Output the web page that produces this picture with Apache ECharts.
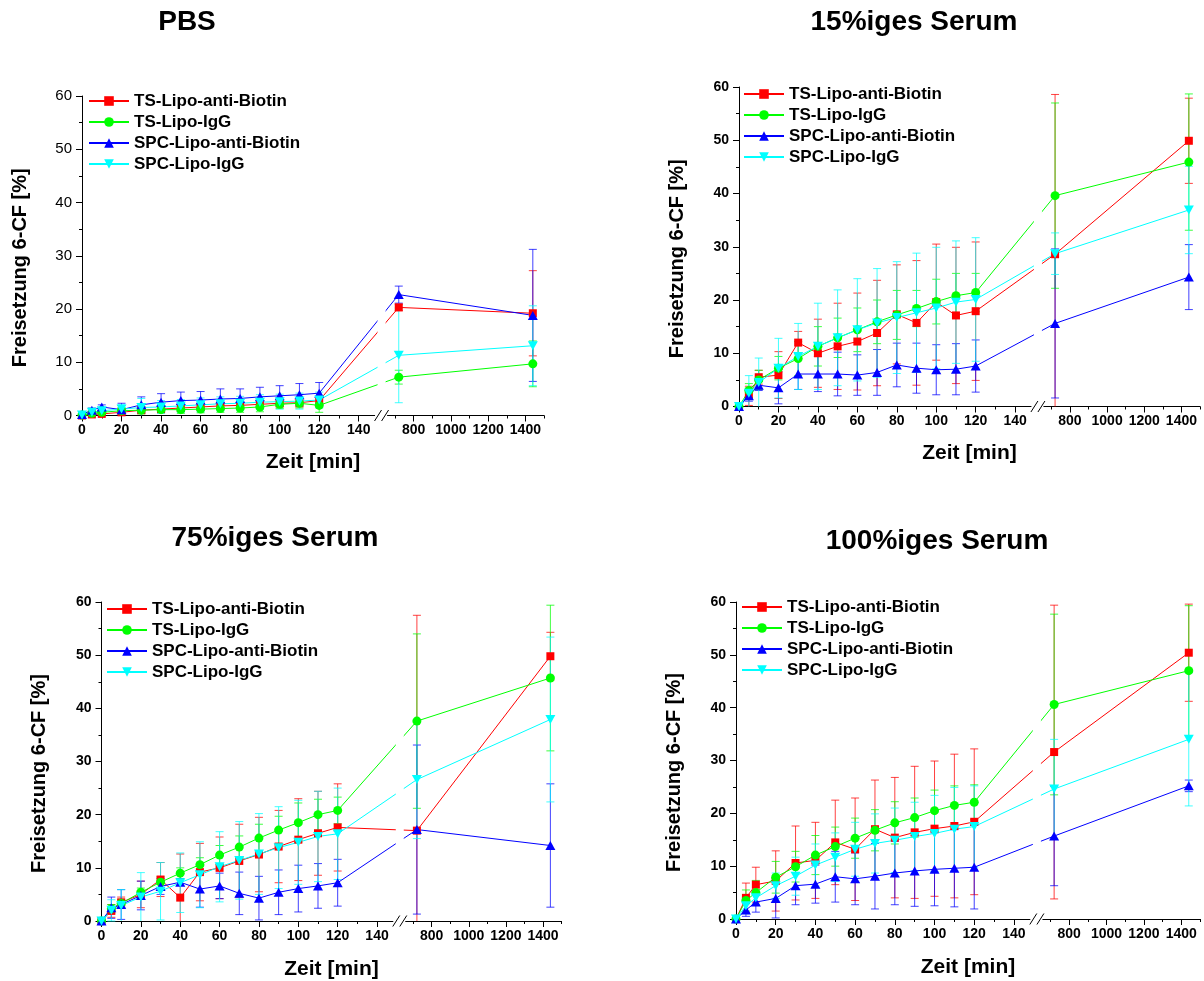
<!DOCTYPE html>
<html><head><meta charset="utf-8">
<script src="https://cdn.jsdelivr.net/npm/echarts@6/dist/echarts.min.js"></script>
<style>html,body{margin:0;padding:0;background:#fff}#c{width:1204px;height:981px}</style>
</head><body><div id="c"></div>
<script>
// ---------------- data ----------------
const TIME = [0, 5, 10, 20, 30, 40, 50, 60, 70, 80, 90, 100, 110, 120, 720, 1440];
const SERIES_NAMES = ['TS-Lipo-anti-Biotin', 'TS-Lipo-IgG', 'SPC-Lipo-anti-Biotin', 'SPC-Lipo-IgG'];
const PANEL_TITLES = ['PBS', '15%iges Serum', '75%iges Serum', '100%iges Serum'];
const X_MAJOR_TICKS = [0, 20, 40, 60, 80, 100, 120, 140, 800, 1000, 1200, 1400];
const X_MINOR_TICKS = [10, 30, 50, 70, 90, 110, 130, 700, 900, 1100, 1300, 1500];
const Y_MIN = 0, Y_MAX = 60, Y_INTERVAL = 10;

// PBS
const PBS_TS_ANTI      = [0, 0.2, 0.3, 0.6, 1.0, 1.2, 1.4, 1.6, 1.8, 1.9, 2.1, 2.3, 2.4, 2.8, 20.3, 19.2];
const PBS_TS_ANTI_ERR  = [0, 0.2, 0.3, 0.4, 0.5, 0.5, 0.6, 0.6, 0.6, 0.7, 0.7, 0.7, 0.8, 0.8, 0.6, 8.0];
const PBS_TS_IGG       = [0.1, 0.4, 0.6, 0.9, 1.0, 1.1, 1.1, 1.2, 1.3, 1.4, 1.6, 2.1, 2.3, 1.9, 7.2, 9.7];
const PBS_TS_IGG_ERR   = [0, 0.3, 0.4, 0.6, 0.7, 0.6, 0.7, 0.7, 0.7, 0.8, 0.9, 0.8, 0.9, 1.3, 1.3, 4.3];
const PBS_SPC_ANTI     = [0.2, 1.0, 1.6, 1.1, 2.0, 2.5, 2.8, 2.9, 3.1, 3.2, 3.5, 3.7, 3.9, 4.2, 22.7, 18.8];
const PBS_SPC_ANTI_ERR = [0, 0.4, 0.4, 1.2, 1.5, 1.6, 1.6, 1.6, 1.9, 1.8, 1.8, 1.9, 2.1, 2.0, 1.6, 12.4];
const PBS_SPC_IGG      = [0.1, 0.6, 0.9, 1.2, 1.5, 1.6, 1.8, 2.0, 2.2, 2.3, 2.5, 2.6, 2.7, 2.9, 11.3, 13.1];
const PBS_SPC_IGG_ERR  = [0, 0.4, 0.5, 0.8, 1.7, 1.2, 1.2, 1.3, 1.3, 1.3, 1.4, 1.4, 1.5, 1.5, 8.9, 7.5];

// 15 % serum
const S15_TS_ANTI      = [0, 2.0, 5.5, 5.9, 12.0, 10.0, 11.3, 12.2, 13.8, 17.3, 15.7, 19.6, 17.1, 17.9, 28.6, 49.9];
const S15_TS_ANTI_ERR  = [0, 1.8, 1.3, 4.4, 2.1, 6.4, 8.1, 9.1, 9.9, 9.3, 11.7, 10.9, 12.8, 13.0, 30.0, 8.0];
const S15_TS_IGG       = [0, 3.0, 5.0, 7.2, 9.0, 11.3, 12.9, 14.4, 15.9, 17.2, 18.4, 19.7, 20.8, 21.4, 39.6, 45.9];
const S15_TS_IGG_ERR   = [0, 1.3, 1.8, 2.2, 3.2, 3.7, 3.7, 4.1, 4.1, 4.6, 3.4, 4.2, 4.2, 3.6, 17.4, 12.8];
const S15_SPC_ANTI     = [0, 2.0, 4.0, 3.5, 6.1, 6.1, 6.1, 5.9, 6.4, 7.8, 7.2, 6.9, 7.0, 7.6, 15.6, 24.3];
const S15_SPC_ANTI_ERR = [0, 1.0, 1.0, 3.0, 2.9, 3.3, 4.1, 3.8, 4.3, 4.1, 4.7, 4.7, 4.8, 4.9, 14.0, 6.1];
const S15_SPC_IGG      = [0, 2.5, 4.5, 7.2, 9.4, 11.3, 12.9, 14.4, 15.7, 16.7, 17.6, 18.5, 19.6, 20.1, 28.7, 36.9];
const S15_SPC_IGG_ERR  = [0, 3.3, 4.6, 5.6, 6.2, 8.1, 9.0, 9.6, 10.2, 10.5, 11.2, 11.4, 11.5, 11.6, 3.9, 8.2];

// 75 % serum
const S75_TS_ANTI      = [0, 1.9, 3.5, 5.0, 7.8, 4.4, 9.2, 10.0, 11.3, 12.5, 14.0, 15.3, 16.5, 17.6, 17.0, 49.8];
const S75_TS_ANTI_ERR  = [0, 1.2, 1.0, 2.5, 3.2, 8.2, 5.4, 5.8, 6.9, 7.0, 6.8, 7.7, 7.9, 8.2, 40.5, 4.5];
const S75_TS_IGG       = [0, 2.3, 3.3, 5.4, 7.3, 9.0, 10.6, 12.4, 13.9, 15.6, 17.1, 18.5, 20.0, 20.8, 37.6, 45.7];
const S75_TS_IGG_ERR   = [0, 0.8, 0.8, 0.8, 1.0, 1.0, 1.3, 1.8, 2.1, 2.6, 2.6, 3.7, 2.9, 2.5, 16.4, 13.7];
const S75_SPC_ANTI     = [0, 2.5, 3.1, 4.8, 6.5, 7.3, 6.0, 6.6, 5.2, 4.3, 5.4, 6.1, 6.6, 7.2, 17.2, 14.2];
const S75_SPC_ANTI_ERR = [0, 2.0, 2.8, 2.7, 1.5, 0.6, 3.4, 2.4, 4.0, 4.1, 4.2, 4.4, 4.2, 4.4, 15.9, 11.6];
const S75_SPC_IGG      = [0, 2.0, 2.9, 4.5, 5.6, 7.2, 8.7, 10.2, 11.4, 12.6, 13.8, 14.8, 15.9, 16.4, 26.6, 37.9];
const S75_SPC_IGG_ERR  = [0, 2.0, 3.0, 4.6, 5.4, 5.6, 6.2, 6.6, 7.3, 7.6, 7.7, 7.9, 8.5, 8.6, 11.1, 15.5];

// 100 % serum
const S100_TS_ANTI      = [0, 4.0, 6.5, 7.2, 10.6, 11.1, 14.5, 13.2, 17.0, 15.4, 16.4, 17.1, 17.6, 18.4, 31.6, 50.4];
const S100_TS_ANTI_ERR  = [0, 2.8, 3.3, 5.7, 7.0, 7.2, 8.0, 9.7, 9.3, 11.4, 12.5, 12.8, 13.6, 13.8, 27.8, 9.2];
const S100_TS_IGG       = [0, 3.5, 5.0, 7.9, 9.9, 12.1, 13.7, 15.3, 16.8, 18.2, 19.2, 20.5, 21.5, 22.1, 40.6, 47.0];
const S100_TS_IGG_ERR   = [0, 2.0, 2.3, 3.0, 2.9, 3.7, 3.7, 3.8, 3.9, 4.0, 3.7, 3.9, 3.7, 3.3, 17.1, 12.3];
const S100_SPC_ANTI     = [0, 1.7, 3.2, 3.9, 6.3, 6.6, 8.0, 7.6, 8.1, 8.7, 9.1, 9.4, 9.6, 9.8, 15.7, 25.2];
const S100_SPC_ANTI_ERR = [0, 1.2, 1.9, 3.7, 3.6, 3.6, 4.8, 4.9, 6.2, 6.0, 6.7, 6.9, 7.3, 7.9, 9.4, 1.1];
const S100_SPC_IGG      = [0, 2.5, 4.0, 6.3, 8.1, 10.2, 11.7, 13.2, 14.3, 14.9, 15.6, 16.2, 17.0, 17.5, 24.6, 34.0];
const S100_SPC_IGG_ERR  = [0, 1.5, 1.2, 2.4, 3.6, 4.0, 4.6, 5.1, 5.6, 6.1, 6.5, 7.2, 7.9, 7.7, 9.4, 12.6];

// ---------------- broken x scale ----------------
const LEFT_END = 148, RIGHT_START = 660, RIGHT_END = 1500, GAP = 6.6, K = 0.0942;
function toU(x) { return x <= LEFT_END ? x : LEFT_END + GAP + (x - RIGHT_START) * K; }
function fromU(u) { return u <= LEFT_END ? Math.round(u) : Math.round(RIGHT_START + (u - LEFT_END - GAP) / K); }
const U_MAX = toU(RIGHT_END);

// ---------------- layout / style ----------------
const FONT = '"Liberation Sans", Arial, sans-serif';
const COLORS = ['#ff0000', '#00ff00', '#0000ff', '#00ffff'];
const SYMBOLS = ['rect', 'circle', 'triangle', 'triangle'];
const SYMBOL_SIZES = [8, 9, [10, 9], [10, 9]];
const SYMBOL_ROT = [0, 0, 0, 180];

const PANELS = [
  { values: [PBS_TS_ANTI, PBS_TS_IGG, PBS_SPC_ANTI, PBS_SPC_IGG],
    errors: [PBS_TS_ANTI_ERR, PBS_TS_IGG_ERR, PBS_SPC_ANTI_ERR, PBS_SPC_IGG_ERR],
    left: 82, top: 96, width: 462, height: 319.5, titleX: 187, titleY: 22,
    legendLeft: 88, legendTop: 92.5, yBold: false, xNameGap: 36 },
  { values: [S15_TS_ANTI, S15_TS_IGG, S15_SPC_ANTI, S15_SPC_IGG],
    errors: [S15_TS_ANTI_ERR, S15_TS_IGG_ERR, S15_SPC_ANTI_ERR, S15_SPC_IGG_ERR],
    left: 739, top: 87, width: 461, height: 319.5, titleX: 914, titleY: 22,
    legendLeft: 743, legendTop: 85.5, yBold: true, xNameGap: 36 },
  { values: [S75_TS_ANTI, S75_TS_IGG, S75_SPC_ANTI, S75_SPC_IGG],
    errors: [S75_TS_ANTI_ERR, S75_TS_IGG_ERR, S75_SPC_ANTI_ERR, S75_SPC_IGG_ERR],
    left: 101.5, top: 602, width: 460, height: 319, titleX: 275, titleY: 538,
    legendLeft: 106, legendTop: 600.5, yBold: true, xNameGap: 38 },
  { values: [S100_TS_ANTI, S100_TS_IGG, S100_SPC_ANTI, S100_SPC_IGG],
    errors: [S100_TS_ANTI_ERR, S100_TS_IGG_ERR, S100_SPC_ANTI_ERR, S100_SPC_IGG_ERR],
    left: 736, top: 602, width: 464, height: 317, titleX: 937, titleY: 541,
    legendLeft: 741, legendTop: 598.5, yBold: true, xNameGap: 38 }
];

function errRender(color) {
  return function (params, api) {
    const u = api.value(0), v = api.value(1), e = api.value(2);
    if (!e) return null;
    const hiV = Math.min(Y_MAX, v + e), loV = Math.max(Y_MIN, v - e);
    const pHi = api.coord([u, hiV]), pLo = api.coord([u, loV]);
    const st = { stroke: color, lineWidth: 1, opacity: 0.75 };
    const cap = 4;
    const ch = [{ type: 'line', shape: { x1: pHi[0], y1: pHi[1], x2: pLo[0], y2: pLo[1] }, style: st }];
    if (v + e <= Y_MAX) ch.push({ type: 'line', shape: { x1: pHi[0] - cap, y1: pHi[1], x2: pHi[0] + cap, y2: pHi[1] }, style: st });
    if (v - e >= Y_MIN) ch.push({ type: 'line', shape: { x1: pLo[0] - cap, y1: pLo[1], x2: pLo[0] + cap, y2: pLo[1] }, style: st });
    return { type: 'group', children: ch };
  };
}

const option = {
  animation: false,
  backgroundColor: '#ffffff',
  grid: PANELS.map(p => ({ left: p.left, top: p.top, width: p.width, height: p.height })),
  xAxis: [], yAxis: [], legend: [], series: []
};

PANELS.forEach((p, i) => {
  option.xAxis.push({
    gridIndex: i, type: 'value', min: 0, max: U_MAX, position: 'bottom',
    name: 'Zeit [min]', nameLocation: 'middle', nameGap: p.xNameGap,
    nameTextStyle: { fontFamily: FONT, fontSize: 21, fontWeight: 'bold', color: '#000' },
    axisLine: { show: true, onZero: false, lineStyle: { color: '#000', width: 1 } },
    axisTick: { show: true, inside: false, length: 6, customValues: X_MAJOR_TICKS.map(toU), lineStyle: { color: '#000', width: 1 } },
    axisLabel: { show: true, customValues: X_MAJOR_TICKS.map(toU), formatter: v => String(fromU(v)), margin: 8,
      fontFamily: FONT, fontSize: 14, fontWeight: 'bold', color: '#000' },
    splitLine: { show: false }
  });
  option.xAxis.push({
    gridIndex: i, type: 'value', min: 0, max: U_MAX, position: 'bottom',
    axisLine: { show: false, onZero: false }, axisLabel: { show: false }, splitLine: { show: false },
    axisTick: { show: true, inside: false, length: 3, customValues: X_MINOR_TICKS.map(toU), lineStyle: { color: '#000', width: 1 } }
  });
  option.yAxis.push({
    gridIndex: i, type: 'value', min: Y_MIN, max: Y_MAX, interval: Y_INTERVAL,
    name: 'Freisetzung 6-CF [%]', nameLocation: 'middle', nameGap: 52,
    nameTextStyle: { fontFamily: FONT, fontSize: 20, fontWeight: 'bold', color: '#000', padding: [0, 24, 0, 0] },
    axisLine: { show: true, lineStyle: { color: '#000', width: 1 } },
    axisTick: { show: true, inside: false, length: 6, lineStyle: { color: '#000', width: 1 } },
    minorTick: { show: true, splitNumber: 2, length: 3, lineStyle: { color: '#000', width: 1 } },
    axisLabel: { margin: 10, fontFamily: FONT, fontSize: p.yBold ? 14 : 15, fontWeight: p.yBold ? 'bold' : 'normal', color: '#000' },
    splitLine: { show: false }
  });
  option.legend.push({
    orient: 'vertical', left: p.legendLeft, top: p.legendTop, padding: 0,
    itemWidth: 40, itemHeight: 12, itemGap: 4, selectedMode: false,
    data: SERIES_NAMES,
    textStyle: { fontFamily: FONT, fontSize: 17, fontWeight: 'bold', color: '#000' }
  });
  for (let s = 0; s < 4; s++) {
    option.series.push({
      type: 'custom', xAxisIndex: 2 * i, yAxisIndex: i, silent: true, z: 1,
      encode: { x: 0, y: 1 },
      data: TIME.map((t, k) => [toU(t), p.values[s][k], p.errors[s][k]]),
      renderItem: errRender(COLORS[s])
    });
  }
  for (let s = 0; s < 4; s++) {
    option.series.push({
      type: 'line', name: SERIES_NAMES[s], xAxisIndex: 2 * i, yAxisIndex: i, z: 3,
      data: TIME.map((t, k) => [toU(t), p.values[s][k]]),
      symbol: SYMBOLS[s], symbolSize: SYMBOL_SIZES[s], symbolRotate: SYMBOL_ROT[s],
      itemStyle: { color: COLORS[s] }, lineStyle: { color: COLORS[s], width: 1 },
      showSymbol: true, clip: true
    });
  }
});

const chart = echarts.init(document.getElementById('c'), null, { renderer: 'canvas', width: 1204, height: 981 });
chart.setOption(option);

// titles and axis-break decorations
const graphics = [];
PANELS.forEach((p, i) => {
  graphics.push({ type: 'text', x: p.titleX, y: p.titleY, z: 100,
    style: { text: PANEL_TITLES[i], fill: '#000', fontFamily: FONT, fontSize: 28, fontWeight: 'bold',
      align: 'center', verticalAlign: 'middle', textAlign: 'center', textVerticalAlign: 'middle' } });
  const xL = chart.convertToPixel({ xAxisIndex: 2 * i }, LEFT_END);
  const xR = chart.convertToPixel({ xAxisIndex: 2 * i }, toU(RIGHT_START));
  const y0 = chart.convertToPixel({ yAxisIndex: i }, Y_MIN);
  const yT = chart.convertToPixel({ yAxisIndex: i }, Y_MAX);
  graphics.push({ type: 'rect', z: 100, shape: { x: xL + 0.5, y: y0 - 2, width: xR - xL - 1, height: 4 }, style: { fill: '#fff' } });
  graphics.push({ type: 'rect', z: 100, shape: { x: xL + 3, y: yT - 8, width: xR - xL - 5, height: y0 - yT + 8 }, style: { fill: '#fff' } });
  [xL + 3.5, xR - 2.5].forEach(c => {
    graphics.push({ type: 'line', z: 101, shape: { x1: c - 3.5, y1: y0 + 5.5, x2: c + 3.5, y2: y0 - 5.5 }, style: { stroke: '#000', lineWidth: 1 } });
  });
});
chart.setOption({ graphic: graphics });
</script>
</body></html>
